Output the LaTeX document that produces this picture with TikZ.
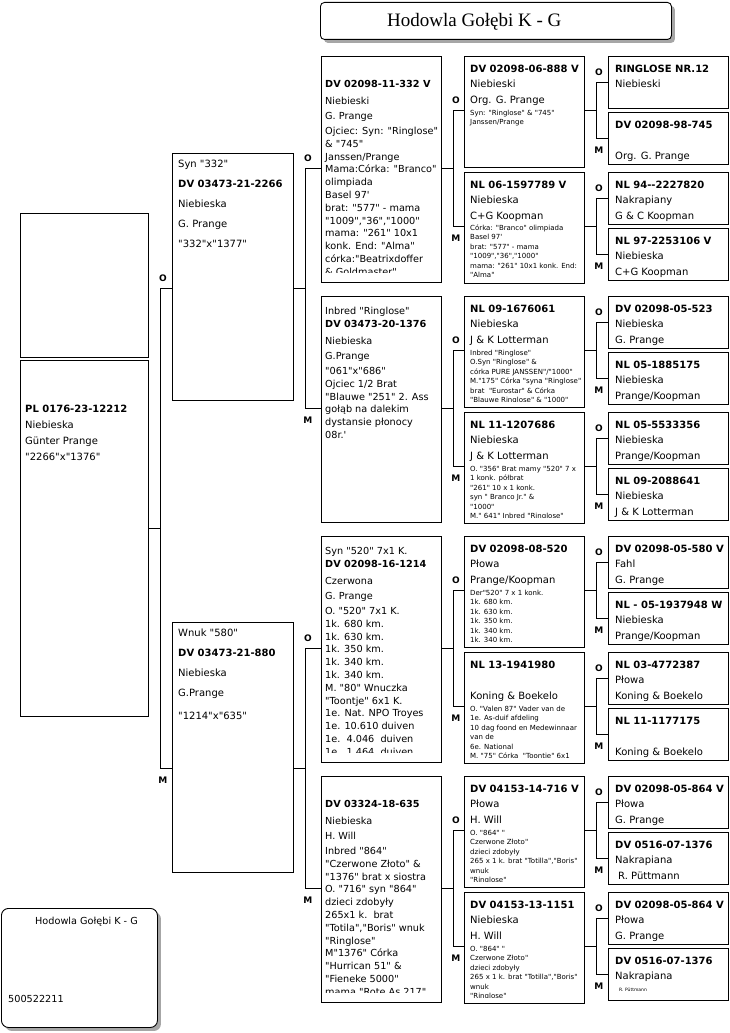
\documentclass[tikz,border=0pt]{standalone}
\usepackage{fontspec}
\setmainfont{DejaVu Sans}[Ligatures=TeXOff]
\newfontfamily\titleserif{Liberation Serif}[Ligatures=TeXOff]
\usetikzlibrary{calc, shadows}

\tikzset{textcut/.store in=\pedcut, textpad/.store in=\pedpad, textcut=2pt, textpad=5pt}
\newcommand{\fm}{\fontsize{10}{12}\selectfont}
\newcommand{\pedbox}[6]{%
  \node[pbox, minimum width=#3pt, minimum height=#4pt] (#1) at (#2) {};
  \begin{scope}[#5]
    \clip ([xshift=1pt, yshift=-1pt]#1.north west) rectangle ([xshift=-1pt, yshift=\pedcut]#1.south east);
    \node[ptext] (#1-t) at ([xshift=\pedpad]#1.north west) {#6};
  \end{scope}}

\begin{document}
\begin{tikzpicture}[x=1pt, y=-1pt,
    pbox/.style={draw, line width=0.9pt, anchor=north west, inner sep=0pt},
    ptext/.style={anchor=north west, align=left, inner sep=0pt},
    gen1/.style={font={\fontsize{10}{16}\selectfont\lineskiplimit=-20pt}},
    gen2/.style={font={\fontsize{10}{20}\selectfont\lineskiplimit=-20pt}, textpad=6pt},
    gen3/.style={font={\fontsize{9.7}{12.8}\selectfont\lineskiplimit=-20pt}, textcut=10pt, textpad=4pt},
    gen4/.style={font={\fontsize{7}{9.5}\selectfont\lineskiplimit=-20pt}, textcut=6pt, textpad=6pt},
    gen5/.style={font={\fontsize{10}{15.8}\selectfont\lineskiplimit=-20pt}, textpad=7pt},
    card/.style={draw, line width=0.9pt, fill=white, anchor=north west, inner sep=0pt,
                 drop shadow={shadow xshift=3.5pt, shadow yshift=-3.5pt, opacity=1, fill=black!35}},
    link/.style={line width=0.9pt},
    lbl/.style={font=\fontsize{9}{9}\selectfont\bfseries, inner sep=0pt},
]
    \fill[white] (0,0) rectangle (729,1033);
    \useasboundingbox (0,0) rectangle (729,1033);

    \node[card, rounded corners=4pt, minimum width=351pt, minimum height=37pt] (title) at (320,2) {};
    \node[anchor=base west, inner sep=0pt, font=\titleserif\fontsize{19}{19}\selectfont] (title-t) at (387,27) {Hodowla Gołębi K - G};

    \node[card, rounded corners=7pt, minimum width=156pt, minimum height=119pt] (owner) at (1,908) {};
    \node[anchor=base west, inner sep=0pt, font=\fontsize{9.7}{12}\selectfont] (owner-t) at (35,924) {Hodowla Gołębi K - G};
    \node[anchor=base west, inner sep=0pt, font=\fontsize{9.7}{12}\selectfont] (owner-n) at (8,1002) {500522211};

    \node[pbox, minimum width=128pt, minimum height=144pt] (pe) at (20,213) {};
    \pedbox{p}{20,360}{128}{356}{gen1}{\rule{0pt}{52pt}\textbf{PL 0176-23-12212}\\ Niebieska\\ Günter Prange\\ "2266"x"1376"}

    \pedbox{p1}{172,153}{121}{247}{gen2}{\rule{0pt}{14pt}Syn "332"\\ \textbf{DV 03473-21-2266}\\ Niebieska\\ G. Prange\\ "332"x"1377"}
    \pedbox{p2}{172,622}{121}{250}{gen2}{\rule{0pt}{14.5pt}Wnuk "580"\\ \textbf{DV 03473-21-880}\\ Niebieska\\ G.Prange\\[3pt] "1214"x"635"}

    \pedbox{p11}{321,56}{120}{226}{gen3}{\rule{0pt}{18.3pt}\\ \textbf{DV 02098-11-332 V}\\[4pt] Niebieski\\[2.8pt] G. Prange\\[2pt] Ojciec: Syn: "Ringlose"\\ \& "745"\\ Janssen/Prange\\ Mama:Córka: "Branco"\\ olimpiada\\ Basel 97'\\ brat: "577" - mama\\ "1009","36","1000"\\ mama: "261" 10x1\\ konk. End: "Alma"\\ córka:"Beatrixdoffer\\ \& Goldmaster"}
    \pedbox{p12}{321,296}{120}{226}{gen3}{\rule{0pt}{18.3pt}Inbred "Ringlose"\\ \textbf{DV 03473-20-1376}\\[4pt] Niebieska\\[2.8pt] G.Prange\\[2pt] "061"x"686"\\ Ojciec 1/2 Brat\\ "Blauwe "251" 2. Ass\\ gołąb na dalekim\\ dystansie płonocy\\ 08r.'}
    \pedbox{p21}{321,536}{120}{226}{gen3}{\rule{0pt}{18.3pt}Syn "520" 7x1 K.\\ \textbf{DV 02098-16-1214}\\[4pt] Czerwona\\[2.8pt] G. Prange\\[2pt] O. "520" 7x1 K.\\ 1k. 680 km.\\ 1k. 630 km.\\ 1k. 350 km.\\ 1k. 340 km.\\ 1k. 340 km.\\ M. "80" Wnuczka\\ "Toontje" 6x1 K.\\ 1e. Nat. NPO Troyes\\ 1e. 10.610 duiven\\ 1e.~~4.046~~duiven\\ 1e.~~1.464~~duiven}
    \pedbox{p22}{321,776}{120}{226}{gen3}{\rule{0pt}{18.3pt}\\ \textbf{DV 03324-18-635}\\[4pt] Niebieska\\[2.8pt] H. Will\\[2pt] Inbred "864"\\ "Czerwone Złoto" \&\\ "1376" brat x siostra\\ O. "716" syn "864"\\ dzieci zdobyły\\ 265x1 k.~~brat\\ "Totila","Boris" wnuk\\ "Ringlose"\\ M"1376" Córka\\ "Hurrican 51" \&\\ "Fieneke 5000"\\ mama "Rote As 217"}

    \pedbox{p111}{464,56}{120}{111}{gen4}{\rule{0pt}{15.9pt}{\fm\textbf{DV 02098-06-888 V}}\\[5.5pt] {\fm Niebieski}\\[7.2pt] {\fm Org. G. Prange}\\[2.1pt] Syn: "Ringlose" \& "745"\\ Janssen/Prange}
    \pedbox{p112}{464,172}{120}{111}{gen4, textcut=1pt}{\rule{0pt}{15.9pt}{\fm\textbf{NL 06-1597789 V}}\\[5.5pt] {\fm Niebieska}\\[7.2pt] {\fm C+G Koopman}\\[1pt] Córka: "Branco" olimpiada\\ Basel 97'\\ brat: "577" - mama\\ "1009","36","1000"\\ mama: "261" 10x1 konk. End:\\ "Alma"}
    \pedbox{p121}{464,296}{120}{111}{gen4}{\rule{0pt}{15.9pt}{\fm\textbf{NL 09-1676061}}\\[5.5pt] {\fm Niebieska}\\[7.2pt] {\fm J \& K Lotterman}\\[2.1pt] Inbred "Ringlose"\\ O.Syn "Ringlose" \&\\ córka PURE JANSSEN"/"1000"\\ M."175" Córka "syna "Ringlose"\\ brat~~"Eurostar" \& Córka\\ "Blauwe Ringlose" \& "1000"}
    \pedbox{p122}{464,412}{120}{111}{gen4}{\rule{0pt}{15.9pt}{\fm\textbf{NL 11-1207686}}\\[5.5pt] {\fm Niebieska}\\[7.2pt] {\fm J \& K Lotterman}\\[2.1pt] O. "356" Brat mamy "520" 7 x\\ 1 konk. półbrat\\ "261" 10 x 1 konk.\\ syn " Branco Jr." \&\\ "1000"\\ M." 641" Inbred "Ringlose"}
    \pedbox{p211}{464,536}{120}{111}{gen4}{\rule{0pt}{15.9pt}{\fm\textbf{DV 02098-08-520}}\\[5.5pt] {\fm Płowa}\\[7.2pt] {\fm Prange/Koopman}\\[2.1pt] Der"520" 7 x 1 konk.\\ 1k. 680 km.\\ 1k. 630 km.\\ 1k. 350 km.\\ 1k. 340 km.\\ 1k. 340 km.}
    \pedbox{p212}{464,652}{120}{111}{gen4}{\rule{0pt}{15.9pt}{\fm\textbf{NL 13-1941980}}\\[5.5pt] \\[7.2pt] {\fm Koning \& Boekelo}\\[2.1pt] O. "Valen 87" Vader van de\\ 1e. As-duif afdeling\\ 10 dag foond en Medewinnaar\\ van de\\ 6e. National\\ M. "75" Córka~~"Toontje" 6x1}
    \pedbox{p221}{464,776}{120}{111}{gen4}{\rule{0pt}{15.9pt}{\fm\textbf{DV 04153-14-716 V}}\\[5.5pt] {\fm Płowa}\\[7.2pt] {\fm H. Will}\\[2.1pt] O. "864" "\\ Czerwone Złoto"\\ dzieci zdobyły\\ 265 x 1 k. brat "Totilla","Boris"\\ wnuk\\ "Ringlose"}
    \pedbox{p222}{464,892}{120}{111}{gen4}{\rule{0pt}{15.9pt}{\fm\textbf{DV 04153-13-1151}}\\[5.5pt] {\fm Niebieska}\\[7.2pt] {\fm H. Will}\\[2.1pt] O. "864" "\\ Czerwone Złoto"\\ dzieci zdobyły\\ 265 x 1 k. brat "Totilla","Boris"\\ wnuk\\ "Ringlose"}

    \pedbox{p1111}{608,56}{120}{52}{gen5}{\rule{0pt}{15.9pt}\textbf{RINGLOSE NR.12}\\ Niebieski}
    \pedbox{p1112}{608,112}{120}{52}{gen5}{\rule{0pt}{15.9pt}\textbf{DV 02098-98-745}\\ \\ Org. G. Prange}
    \pedbox{p1121}{608,172}{120}{52}{gen5}{\rule{0pt}{15.9pt}\textbf{NL 94--2227820}\\ Nakrapiany\\ G \& C Koopman}
    \pedbox{p1122}{608,228}{120}{52}{gen5}{\rule{0pt}{15.9pt}\textbf{NL 97-2253106 V}\\ Niebieska\\ C+G Koopman}
    \pedbox{p1211}{608,296}{120}{52}{gen5}{\rule{0pt}{15.9pt}\textbf{DV 02098-05-523}\\ Niebieska\\ G. Prange}
    \pedbox{p1212}{608,352}{120}{52}{gen5}{\rule{0pt}{15.9pt}\textbf{NL 05-1885175}\\ Niebieska\\ Prange/Koopman}
    \pedbox{p1221}{608,412}{120}{52}{gen5}{\rule{0pt}{15.9pt}\textbf{NL 05-5533356}\\ Niebieska\\ Prange/Koopman}
    \pedbox{p1222}{608,468}{120}{52}{gen5}{\rule{0pt}{15.9pt}\textbf{NL 09-2088641}\\ Niebieska\\ J \& K Lotterman}
    \pedbox{p2111}{608,536}{120}{52}{gen5}{\rule{0pt}{15.9pt}\textbf{DV 02098-05-580 V}\\ Fahl\\ G. Prange}
    \pedbox{p2112}{608,592}{120}{52}{gen5}{\rule{0pt}{15.9pt}\textbf{NL - 05-1937948 W}\\ Niebieska\\ Prange/Koopman}
    \pedbox{p2121}{608,652}{120}{52}{gen5}{\rule{0pt}{15.9pt}\textbf{NL 03-4772387}\\ Płowa\\ Koning \& Boekelo}
    \pedbox{p2122}{608,708}{120}{52}{gen5}{\rule{0pt}{15.9pt}\textbf{NL 11-1177175}\\ \\ Koning \& Boekelo}
    \pedbox{p2211}{608,776}{120}{52}{gen5}{\rule{0pt}{15.9pt}\textbf{DV 02098-05-864 V}\\ Płowa\\ G. Prange}
    \pedbox{p2212}{608,832}{120}{52}{gen5}{\rule{0pt}{15.9pt}\textbf{DV 0516-07-1376}\\ Nakrapiana\\ \hspace{3pt}R. Püttmann}
    \pedbox{p2221}{608,892}{120}{52}{gen5}{\rule{0pt}{15.9pt}\textbf{DV 02098-05-864 V}\\ Płowa\\ G. Prange}
    \pedbox{p2222}{608,948}{120}{52}{gen5}{\rule{0pt}{15.9pt}\textbf{DV 0516-07-1376}\\ Nakrapiana\\[-4pt] \hspace{4pt}{\fontsize{4.5}{5}\selectfont R. Püttmann}}

    \foreach \a in {p1111,p1112,p1121,p1122,p1211,p1212,p1221,p1222,p2111,p2112,p2121,p2122,p2211,p2212,p2221,p2222}
        \coordinate (c\a) at (\a.west);
    \foreach \a in {p222,p221,p212,p211,p122,p121,p112,p111,p22,p21,p12,p11,p2,p1,p} {
        \path ($(c\a1)!0.5!(c\a2)$) coordinate (m);
        \coordinate (c\a) at (\a.west |- m);
        \draw[link] (c\a -| \a.east) -- ++(12,0) coordinate (j);
        \draw[link] (c\a1) -| (j) |- (c\a2);
        \path (c\a1 -| j) node[lbl, above=7pt, xshift=2pt] (\a-o) {O};
        \path (c\a2 -| j) node[lbl, below=8pt, xshift=2pt] (\a-m) {M};
    }
\end{tikzpicture}
\end{document}
